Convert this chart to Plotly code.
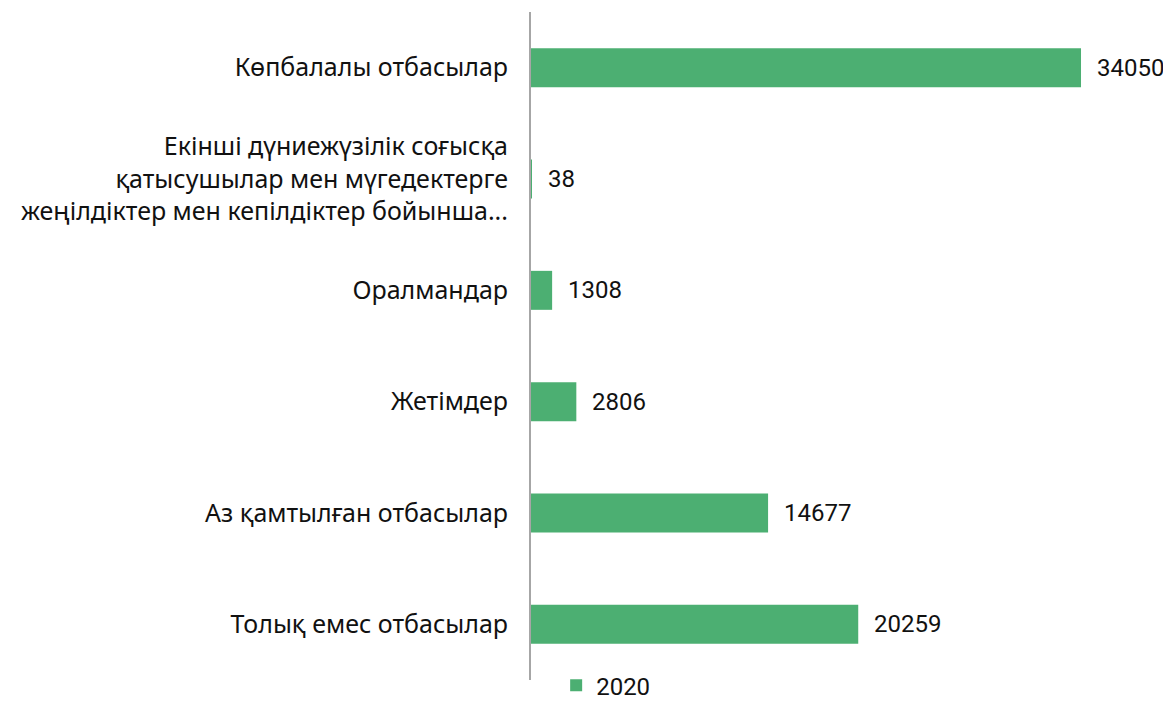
import plotly.graph_objects as go

categories = [
    "Толық емес отбасылар",
    "Аз қамтылған отбасылар",
    "Жетімдер",
    "Оралмандар",
    "Екінші дүниежүзілік соғысқа<br>қатысушылар мен мүгедектерге<br>жеңілдіктер мен кепілдіктер бойынша...",
    "Көпбалалы отбасылар",
]
values = [20259, 14677, 2806, 1308, 38, 34050]
series_name = "2020"
bar_color = "#4caf72"

fig = go.Figure()
fig.add_trace(go.Bar(
    y=categories, x=values, orientation="h", name=series_name,
    marker=dict(color=bar_color, line=dict(width=0)),
))
for c, v in zip(categories, values):
    fig.add_annotation(x=v, y=c, text=str(v), showarrow=False,
                       xanchor="left", xshift=14,
                       font=dict(family="Roboto", size=24, color="#111111"))

fig.update_layout(
    width=1163, height=700,
    margin=dict(l=523, r=11, t=4, b=28, autoexpand=False),
    paper_bgcolor="white", plot_bgcolor="white",
    bargap=0.65,
    showlegend=True,
    legend=dict(orientation="h", x=0.04, xanchor="left", y=-0.042, yanchor="bottom",
                itemwidth=30,
                font=dict(family="Roboto", size=24, color="#111111")),
    font=dict(family="Noto Sans", size=25, color="#111111"),
)
fig.update_xaxes(range=[0, 38940], visible=False)
fig.update_yaxes(showline=True, linecolor="#a6a6a6", linewidth=2, automargin=False,
                 showgrid=False, ticks="", ticklabelstandoff=16,
                 tickfont=dict(family="Noto Sans", size=25, color="#111111"))
fig.write_html("out.html")
